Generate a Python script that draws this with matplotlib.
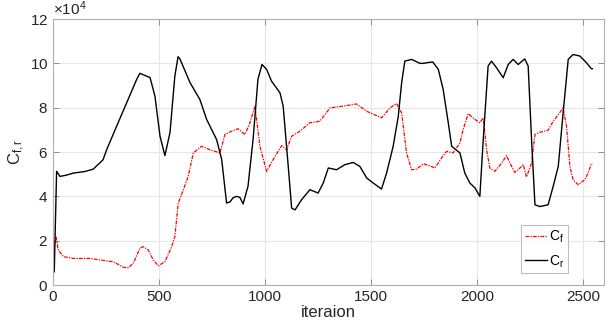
import matplotlib
matplotlib.use("Agg")
import matplotlib.pyplot as plt
from matplotlib.ticker import ScalarFormatter

plt.rcParams['font.family'] = ['Liberation Sans', 'DejaVu Sans']
plt.rcParams['mathtext.fontset'] = 'custom'
plt.rcParams['mathtext.rm'] = 'Liberation Sans'

# Cr series (black)
cr_x = [0, 6, 17, 33, 60, 96, 150, 190, 236, 253, 300, 348, 395, 410, 435, 458, 481, 505, 528,
        552, 575, 590, 599, 646, 693, 725, 772, 796, 819, 835, 850, 867, 882, 897, 920, 944, 967,
        986, 1008, 1031, 1071, 1086, 1110, 1126, 1142, 1173, 1212, 1251, 1275, 1299, 1338, 1377,
        1417, 1448, 1480, 1511, 1550, 1574, 1605, 1629, 1645, 1660, 1692, 1731, 1747, 1778, 1792,
        1818, 1841, 1865, 1881, 1920, 1943, 1967, 1991, 2014, 2030, 2053, 2069, 2093, 2124, 2148,
        2171, 2195, 2226, 2242, 2258, 2274, 2297, 2336, 2360, 2384, 2407, 2431, 2454, 2486, 2517,
        2540, 2545]
cr_y = [0.55, 0.6, 5.13, 4.9, 4.95, 5.05, 5.12, 5.23, 5.65, 6.1, 7.16, 8.23, 9.28, 9.55, 9.45,
        9.36, 8.52, 6.71, 5.84, 6.88, 9.43, 10.3, 10.2, 9.14, 8.37, 7.47, 6.56, 5.66, 3.7, 3.75,
        3.94, 4.0, 3.95, 3.66, 4.45, 6.56, 9.28, 9.95, 9.73, 9.2, 8.67, 8.07, 5.35, 3.47, 3.39,
        3.85, 4.3, 4.15, 4.6, 5.28, 5.2, 5.43, 5.53, 5.35, 4.83, 4.6, 4.33, 5.05, 6.26, 7.6, 9.13,
        10.1, 10.18, 10.0, 10.0, 10.05, 10.06, 9.73, 8.82, 7.32, 6.26, 5.96, 5.05, 4.6, 4.38, 4.0,
        6.56, 9.88, 10.1, 9.8, 9.35, 9.95, 10.18, 9.95, 10.2, 9.88, 6.56, 3.62, 3.54, 3.62, 4.45,
        5.35, 7.77, 10.18, 10.4, 10.33, 10.03, 9.76, 9.76]

# Cf series (red)
cf_x = [0, 2, 14, 25, 49, 96, 175, 253, 285, 332, 355, 379, 410, 426, 450, 473, 497, 528, 560,
        575, 591, 615, 638, 662, 701, 741, 788, 811, 843, 874, 906, 929, 953, 976, 1008, 1039,
        1079, 1102, 1126, 1165, 1212, 1259, 1307, 1369, 1432, 1480, 1550, 1590, 1621, 1645, 1668,
        1692, 1716, 1747, 1778, 1802, 1833, 1857, 1888, 1920, 1935, 1959, 1991, 2014, 2030, 2046,
        2061, 2085, 2117, 2140, 2164, 2179, 2203, 2219, 2234, 2258, 2274, 2297, 2336, 2360, 2384,
        2407, 2423, 2439, 2454, 2478, 2509, 2525, 2540, 2545]
cf_y = [1.2, 1.44, 2.19, 1.58, 1.28, 1.2, 1.2, 1.09, 1.05, 0.8, 0.78, 0.98, 1.66, 1.73, 1.58,
        1.13, 0.87, 1.05, 1.73, 2.19, 3.7, 4.3, 4.9, 5.96, 6.26, 6.1, 5.96, 6.79, 6.94, 7.05, 6.79,
        7.32, 8.07, 6.26, 5.13, 5.66, 6.29, 6.1, 6.71, 6.94, 7.32, 7.39, 7.99, 8.07, 8.17, 7.84,
        7.54, 7.99, 8.19, 7.77, 5.96, 5.2, 5.23, 5.47, 5.38, 5.28, 5.73, 6.03, 5.96, 6.41, 7.01,
        7.73, 7.47, 7.32, 7.54, 6.1, 5.28, 5.13, 5.5, 5.84, 5.35, 5.08, 5.28, 5.43, 4.87, 5.5,
        6.79, 6.89, 6.98, 7.39, 7.69, 7.99, 7.16, 5.35, 4.75, 4.52, 4.75, 5.05, 5.47, 5.5]

x_ticks = [0, 500, 1000, 1500, 2000, 2500]
y_ticks = [0, 2e4, 4e4, 6e4, 8e4, 10e4, 12e4]

fig = plt.figure(figsize=(6.12, 3.28), dpi=100)
ax = fig.add_axes([0.0866, 0.131, 0.9004, 0.811])

ax.plot(cf_x, [v * 1e4 for v in cf_y], color='#ff0000', linestyle=(0, (3, 1, 1, 1)),
        linewidth=0.9, label=r'$\mathregular{C_f}$')
ax.plot(cr_x, [v * 1e4 for v in cr_y], color='black', linestyle='-', linewidth=1.0,
        label=r'$\mathregular{C_r}$')

ax.set_xlim(0, 2600)
ax.set_ylim(0, 12e4)
ax.set_xticks(x_ticks)
ax.set_yticks(y_ticks)
fmt = ScalarFormatter(useMathText=True)
fmt.set_powerlimits((4, 4))
ax.yaxis.set_major_formatter(fmt)
ax.yaxis.get_offset_text().set_fontsize(11)
ax.yaxis.get_offset_text().set_color('#262626')

ax.grid(True, color='#e6e6e6', linewidth=0.8)
ax.set_axisbelow(True)
ax.tick_params(direction='in', length=4, width=0.6, labelsize=11,
               top=True, right=True, labeltop=False, labelright=False,
               colors='#808080', labelcolor='#262626')
for s in ax.spines.values():
    s.set_color('#b0b0b0')
    s.set_linewidth(0.8)

ax.set_xlabel('iteraion', fontsize=12, color='#262626', labelpad=1)
ax.set_ylabel(r'$\mathregular{C_{f,r}}$', fontsize=12, color='#262626', labelpad=2)

leg = ax.legend(loc='lower right', bbox_to_anchor=(0.934, 0.045), fontsize=10,
                frameon=True, fancybox=False, handlelength=1.6, handletextpad=0.15,
                borderpad=0.25, labelspacing=0.6, borderaxespad=0.0)
leg.get_frame().set_edgecolor('#b0b0b0')
leg.get_frame().set_linewidth(0.8)

fig.savefig('out.png', dpi=100)
